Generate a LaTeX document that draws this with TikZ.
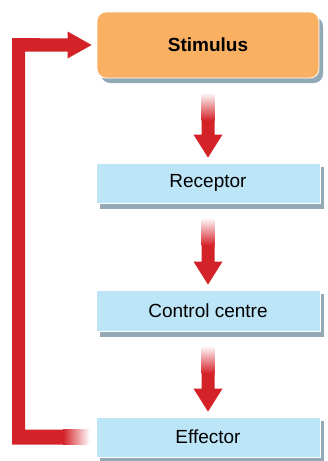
\documentclass[tikz,border=0pt]{standalone}
\usepackage{fontspec}
\setmainfont{Liberation Sans}
\usetikzlibrary{calc}
\definecolor{arrowred}{HTML}{D42229}
\definecolor{stimorange}{HTML}{F9B063}
\definecolor{boxblue}{HTML}{BDE5F8}
\definecolor{shadowgrey}{HTML}{93A9B5}
\tikzset{
  boxshadow/.style={fill=shadowgrey},
  stagebox/.style={draw=white, line width=0.8pt, fill=boxblue, minimum width=224pt, minimum height=40pt, inner sep=0pt, font=\fontsize{19}{22}\selectfont},
  stimbox/.style={draw=white, line width=0.8pt, fill=stimorange, rounded corners=9pt, minimum width=222pt, minimum height=66pt, inner sep=0pt, font=\fontsize{19}{22}\selectfont\bfseries},
}
\newcommand{\flowarrow}[2]{%
  \shade[top color=white, bottom color=arrowred, shading angle=0]
    ($(#1.south)+(-6.5,14)$) rectangle ($(#1.south)+(6.5,42)$);
  \fill[arrowred] ($(#1.south)+(-6.5,41.5)$) -- ($(#2.north)+(-6.5,-28)$)
    -- ($(#2.north)+(-14.5,-28)$) -- ($(#2.north)+(0,-5)$)
    -- ($(#2.north)+(14.5,-28)$) -- ($(#2.north)+(6.5,-28)$)
    -- ($(#1.south)+(6.5,41.5)$) -- cycle;
}
\begin{document}
\begin{tikzpicture}[x=1pt,y=-1pt]
\useasboundingbox (0,0) rectangle (328,461);
% shadows
\fill[boxshadow, rounded corners=9pt] (101,17) rectangle (323,83);
\fill[boxshadow] (100,167) rectangle (324,209);
\fill[boxshadow] (100,294) rectangle (324,337);
\fill[boxshadow] (100,421) rectangle (324,462);
% boxes
\node[stimbox] (stim) at (208,45) {Stimulus};
\node[stagebox] (rec) at (208,183) {Receptor};
\node[stagebox, minimum height=41pt] (ctrl) at (208,310.5) {Control centre};
\node[stagebox] (eff) at (208,437) {Effector};
% down arrows
\flowarrow{stim}{rec}
\flowarrow{rec}{ctrl}
\flowarrow{ctrl}{eff}
% feedback arrow
\coordinate (fbend) at ($(eff.west)+(-6,0)$);
\coordinate (fbtip) at ($(stim.west)+(-5,0)$);
\fill[arrowred] ($(fbend)+(-26,-7.5)$) -- (25,429.5) -- (25,51.5)
  -- ($(fbtip)+(-24,6.5)$) -- ($(fbtip)+(-24,13.5)$) -- (fbtip)
  -- ($(fbtip)+(-24,-13.5)$) -- ($(fbtip)+(-24,-6.5)$)
  -- (12,38) -- (12,444.5) -- ($(fbend)+(-26,7.5)$) -- cycle;
\shade[left color=arrowred, right color=white]
  ($(fbend)+(-26.5,-7.5)$) rectangle ($(fbend)+(0,7.5)$);
\end{tikzpicture}
\end{document}
